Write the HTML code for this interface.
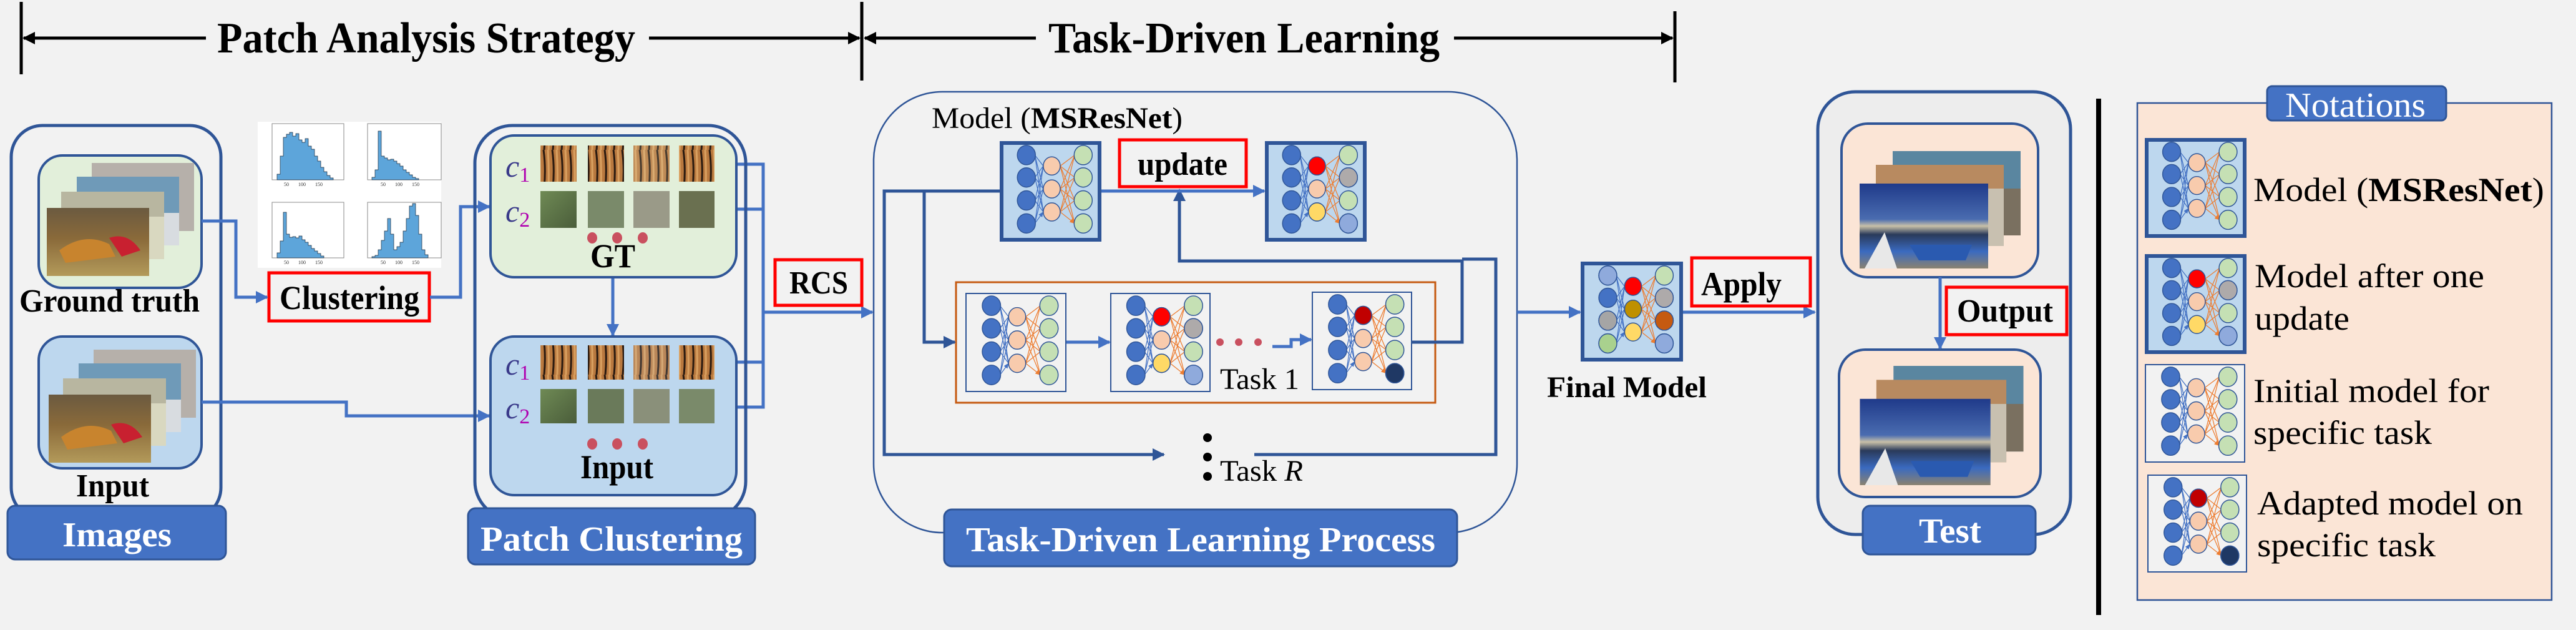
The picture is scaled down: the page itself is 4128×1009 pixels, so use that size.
<!DOCTYPE html>
<html><head><meta charset="utf-8"><style>
html,body{margin:0;padding:0;background:#F2F2F2;}
svg{display:block;font-family:"Liberation Serif","Times New Roman",serif;}
svg text{font-family:"Liberation Serif","Times New Roman",serif !important;}
</style></head><body>
<svg width="4128" height="1009" viewBox="0 0 4128 1009" xmlns="http://www.w3.org/2000/svg" font-family="Liberation Serif, serif">
<defs>
<marker id="ab" viewBox="0 0 10 10" refX="9" refY="5" markerWidth="4" markerHeight="4" orient="auto"><path d="M0,0L10,5L0,10z" fill="#4472C4"/></marker>
<marker id="ad" viewBox="0 0 10 10" refX="9" refY="5" markerWidth="4" markerHeight="4" orient="auto"><path d="M0,0L10,5L0,10z" fill="#2F5597"/></marker>
<marker id="ak" viewBox="0 0 10 10" refX="9" refY="5" markerWidth="4" markerHeight="4" orient="auto"><path d="M0,0L10,5L0,10z" fill="#000"/></marker>
<marker id="sb" viewBox="0 0 10 10" refX="9" refY="5" markerWidth="7" markerHeight="7" orient="auto"><path d="M0,1L10,5L0,9z" fill="#4472C4"/></marker>
<marker id="so" viewBox="0 0 10 10" refX="9" refY="5" markerWidth="7" markerHeight="7" orient="auto"><path d="M0,1L10,5L0,9z" fill="#ED7D31"/></marker>
<pattern id="tig" width="14" height="60" patternUnits="userSpaceOnUse"><rect width="14" height="60" fill="#B9793F"/><path d="M3,0 Q7,30 4,60" stroke="#2a1a10" stroke-width="3" fill="none"/><path d="M10,0 Q12,30 11,60" stroke="#D9A060" stroke-width="3" fill="none"/></pattern>
<linearGradient id="grn" x1="0" y1="0" x2="1" y2="1"><stop offset="0" stop-color="#6f8a55"/><stop offset="1" stop-color="#4a5d3a"/></linearGradient>
<linearGradient id="tgr" x1="0" y1="0" x2="0" y2="1"><stop offset="0" stop-color="#6b5a40"/><stop offset=".45" stop-color="#8a6a3a"/><stop offset="1" stop-color="#b39a5a"/></linearGradient>
<linearGradient id="boat" x1="0" y1="0" x2="0" y2="1"><stop offset="0" stop-color="#1f3a8a"/><stop offset=".42" stop-color="#4a6cb0"/><stop offset=".5" stop-color="#c8c0a8"/><stop offset=".6" stop-color="#2a3a5a"/><stop offset=".8" stop-color="#3a6ac0"/><stop offset="1" stop-color="#8a8270"/></linearGradient>
<symbol id="edges" viewBox="0 0 160 160">
<g stroke="#4472C4" stroke-width="1.3" marker-end="url(#sb)">
<path d="M54,20L68,38M54,20L68,76M54,20L68,114M54,57L68,38M54,57L68,76M54,57L68,114M54,95L68,38M54,95L68,76M54,95L68,114M54,133L68,38M54,133L68,76M54,133L68,114"/></g>
<g stroke="#ED7D31" stroke-width="1.3" marker-end="url(#so)">
<path d="M96,38L120,20M96,38L120,57M96,38L120,95M96,38L120,133M96,76L120,20M96,76L120,57M96,76L120,95M96,76L120,133M96,114L120,20M96,114L120,57M96,114L120,95M96,114L120,133"/></g>
</symbol>
<symbol id="netA" viewBox="0 0 160 160"><use href="#edges" width="160" height="160"/>
<g stroke="#2F5597" stroke-width="1.5"><g fill="#4472C4"><ellipse cx="40" cy="20" rx="15" ry="16"/><ellipse cx="40" cy="57" rx="15" ry="16"/><ellipse cx="40" cy="95" rx="15" ry="16"/><ellipse cx="40" cy="133" rx="15" ry="16"/></g>
<g fill="#F8CBAD"><ellipse cx="82" cy="38" rx="14" ry="15"/><ellipse cx="82" cy="76" rx="14" ry="15"/><ellipse cx="82" cy="114" rx="14" ry="15"/></g>
<g fill="#C5E0B4"><ellipse cx="134" cy="20" rx="15" ry="16"/><ellipse cx="134" cy="57" rx="15" ry="16"/><ellipse cx="134" cy="95" rx="15" ry="16"/><ellipse cx="134" cy="133" rx="15" ry="16"/></g></g></symbol>
<symbol id="netB" viewBox="0 0 160 160"><use href="#netA" width="160" height="160"/>
<g stroke="#2F5597" stroke-width="1.5"><ellipse cx="82" cy="38" rx="14" ry="15" fill="#FF0000"/><ellipse cx="82" cy="114" rx="14" ry="15" fill="#FFD966"/><ellipse cx="134" cy="57" rx="15" ry="16" fill="#AEAAAA"/><ellipse cx="134" cy="133" rx="15" ry="16" fill="#8FAADC"/></g></symbol>
<symbol id="netC" viewBox="0 0 160 160"><use href="#netA" width="160" height="160"/>
<g stroke="#2F5597" stroke-width="1.5"><ellipse cx="82" cy="38" rx="14" ry="15" fill="#C00000"/><ellipse cx="134" cy="133" rx="15" ry="16" fill="#1F3864"/></g></symbol>
<symbol id="netF" viewBox="0 0 160 160"><use href="#netA" width="160" height="160"/>
<g stroke="#2F5597" stroke-width="1.5"><ellipse cx="40" cy="20" rx="15" ry="16" fill="#8FAADC"/><ellipse cx="40" cy="95" rx="15" ry="16" fill="#A5A5A5"/><ellipse cx="40" cy="133" rx="15" ry="16" fill="#A9D18E"/>
<ellipse cx="82" cy="38" rx="14" ry="15" fill="#FF0000"/><ellipse cx="82" cy="76" rx="14" ry="15" fill="#BF9000"/><ellipse cx="82" cy="114" rx="14" ry="15" fill="#FFD966"/>
<ellipse cx="134" cy="57" rx="15" ry="16" fill="#AEAAAA"/><ellipse cx="134" cy="95" rx="15" ry="16" fill="#C55A11"/><ellipse cx="134" cy="133" rx="15" ry="16" fill="#8FAADC"/></g></symbol>
<symbol id="tigstack" viewBox="0 0 240 200">
<rect x="72" y="0" width="164" height="109" fill="#9a9590"/><rect x="72" y="0" width="164" height="109" fill="#c9c3bd" opacity=".6"/>
<rect x="48" y="22" width="164" height="110" fill="#6f9ab8"/><rect x="48" y="80" width="164" height="52" fill="#d8dce0"/>
<rect x="23" y="46" width="165" height="108" fill="#d9d8c0"/><rect x="23" y="46" width="165" height="40" fill="#b8b6a0"/>
<rect x="0" y="72" width="164" height="109" fill="url(#tgr)"/><path d="M20,140 Q60,110 100,130 L110,150 L30,160z" fill="#c8842e"/><path d="M100,120 Q130,110 150,140 L120,150z" fill="#c82030"/>
</symbol>
<symbol id="boatstack" viewBox="0 0 260 190">
<rect x="53" y="0" width="205" height="135" fill="#5a86a0"/><rect x="53" y="60" width="205" height="75" fill="#7a7060"/>
<rect x="26" y="22" width="205" height="130" fill="#b88a60"/><rect x="26" y="60" width="205" height="92" fill="#c8c0b0"/>
<rect x="0" y="52" width="206" height="136" fill="url(#boat)"/><path d="M8,188 L40,130 L60,188z" fill="#e8e8e8"/><path d="M80,150 L180,150 L170,175 L95,175z" fill="#2a5ab0"/>
</symbol>
</defs>

<rect width="4128" height="1009" fill="#F2F2F2"/>

<g stroke="#000" stroke-width="5"><line x1="34" y1="3" x2="34" y2="119"/><line x1="1381" y1="3" x2="1381" y2="129"/><line x1="2684" y1="18" x2="2684" y2="132"/>
<line x1="330" y1="61" x2="38" y2="61" marker-end="url(#ak)"/><line x1="1040" y1="61" x2="1377" y2="61" marker-end="url(#ak)"/>
<line x1="1660" y1="61" x2="1386" y2="61" marker-end="url(#ak)"/><line x1="2330" y1="61" x2="2680" y2="61" marker-end="url(#ak)"/></g>
<text x="348" y="84" font-size="70" font-weight="bold" textLength="670" lengthAdjust="spacingAndGlyphs">Patch Analysis Strategy</text>
<text x="1680" y="84" font-size="70" font-weight="bold" textLength="627" lengthAdjust="spacingAndGlyphs">Task-Driven Learning</text>

<rect x="18" y="201" width="336" height="630" rx="50" fill="#F2F2F2" stroke="#2F5597" stroke-width="5"/>
<rect x="62" y="249" width="261" height="212" rx="38" fill="#E2EFDA" stroke="#2F5597" stroke-width="4"/>
<use href="#tigstack" x="75" y="261" width="240" height="200"/>
<rect x="62" y="539" width="261" height="211" rx="38" fill="#BDD7EE" stroke="#2F5597" stroke-width="4"/>
<use href="#tigstack" x="78" y="560" width="240" height="200"/>
<text x="31" y="499" font-size="52" font-weight="bold" textLength="289" lengthAdjust="spacingAndGlyphs">Ground truth</text>
<text x="122" y="795" font-size="52" font-weight="bold" textLength="117" lengthAdjust="spacingAndGlyphs">Input</text>
<rect x="12" y="810" width="350" height="86" rx="12" fill="#4472C4" stroke="#2F5597" stroke-width="3"/>
<text x="100" y="875" font-size="56" font-weight="bold" fill="#fff" textLength="175" lengthAdjust="spacingAndGlyphs">Images</text>

<rect x="413" y="195" width="294" height="234" fill="#fff"/>
<g fill="none" stroke="#888" stroke-width="1"><rect x="436" y="198" width="115" height="90"/><rect x="589" y="198" width="118" height="90"/><rect x="436" y="324" width="115" height="89"/><rect x="589" y="324" width="118" height="89"/></g>
<g fill="#5DA5DA" stroke="#1a2a3a" stroke-width=".7">
<path d="M444,288V279H449V250H454V220H459V215H464V212H469V218H474V214H479V224H484V228H489V222H494V234H499V239H504V250H509V258H514V268H519V275H524V281H529V285H534V288z"/>
<path d="M596,288V284H601V272H606V210H611V250H616V253H621V256H626V255H631V258H636V262H641V266H646V272H651V276H656V280H661V284H666V286H671V288z"/>
<path d="M444,413V405H449V386H454V340H459V375H464V380H469V379H474V381H479V378H484V384H489V388H494V393H499V398H504V402H509V406H514V410H519V413z"/>
<path d="M596,413V411H601V409H606V400H611V385H616V370H621V350H626V375H631V400H636V395H641V388H646V370H651V350H656V330H661V326H666V345H671V375H676V400H681V408H686V413z"/>
</g>
<g font-size="8" fill="#333"><text x="455" y="298">50</text><text x="478" y="298">100</text><text x="505" y="298">150</text><text x="610" y="298">50</text><text x="633" y="298">100</text><text x="660" y="298">150</text><text x="455" y="423">50</text><text x="478" y="423">100</text><text x="505" y="423">150</text><text x="610" y="423">50</text><text x="633" y="423">100</text><text x="660" y="423">150</text></g>

<rect x="431" y="437" width="257" height="77" fill="none" stroke="#FF0000" stroke-width="5"/>
<text x="448" y="495" font-size="54" font-weight="bold" textLength="224" lengthAdjust="spacingAndGlyphs">Clustering</text>

<g stroke="#4472C4" stroke-width="5" fill="none">
<polyline points="323,354 378,354 378,476 428,476" marker-end="url(#ab)"/>
<polyline points="689,476 738,476 738,331 784,331" marker-end="url(#ab)"/>
<polyline points="323,644 555,644 555,666 784,666" marker-end="url(#ab)"/>
<line x1="982" y1="444" x2="982" y2="537" marker-end="url(#ab)"/>
<polyline points="1145,263 1223,263 1223,652 1145,652"/>
<line x1="1145" y1="335" x2="1223" y2="335"/><line x1="1145" y1="580" x2="1223" y2="580"/>
<line x1="1223" y1="500" x2="1398" y2="500" marker-end="url(#ab)"/>
</g>

<rect x="761" y="201" width="434" height="630" rx="60" fill="none" stroke="#2F5597" stroke-width="5"/>
<rect x="786" y="217" width="394" height="227" rx="38" fill="#E2EFDA" stroke="#2F5597" stroke-width="4"/>
<rect x="786" y="539" width="394" height="254" rx="38" fill="#BDD7EE" stroke="#2F5597" stroke-width="4"/>
<g><rect x="866" y="233" width="58" height="58" fill="url(#tig)"/><rect x="942" y="233" width="58" height="58" fill="url(#tig)"/><rect x="1015" y="233" width="58" height="58" fill="url(#tig)" opacity=".85"/><rect x="1088" y="233" width="57" height="58" fill="url(#tig)"/>
<rect x="866" y="306" width="58" height="59" fill="url(#grn)"/><rect x="942" y="306" width="58" height="59" fill="#7a8a6a"/><rect x="1015" y="306" width="58" height="59" fill="#9a9a88"/><rect x="1088" y="306" width="57" height="59" fill="#6a7050"/>
<rect x="866" y="553" width="58" height="55" fill="url(#tig)"/><rect x="942" y="553" width="58" height="55" fill="url(#tig)"/><rect x="1015" y="553" width="58" height="55" fill="url(#tig)" opacity=".85"/><rect x="1088" y="553" width="57" height="55" fill="url(#tig)"/>
<rect x="866" y="623" width="58" height="55" fill="url(#grn)"/><rect x="942" y="623" width="58" height="55" fill="#6a7a5a"/><rect x="1015" y="623" width="58" height="55" fill="#8a907a"/><rect x="1088" y="623" width="57" height="55" fill="#7a8a6a"/></g>
<g font-size="50" font-style="italic"><text x="810" y="283" fill="#3a3a8a">c<tspan font-size="34" dy="8" fill="#B000B0" font-style="normal">1</tspan></text>
<text x="810" y="355" fill="#3a3a8a">c<tspan font-size="34" dy="8" fill="#B000B0" font-style="normal">2</tspan></text>
<text x="810" y="600" fill="#3a3a8a">c<tspan font-size="34" dy="8" fill="#B000B0" font-style="normal">1</tspan></text>
<text x="810" y="670" fill="#3a3a8a">c<tspan font-size="34" dy="8" fill="#B000B0" font-style="normal">2</tspan></text></g>
<g fill="#C9505F"><ellipse cx="949" cy="381" rx="8" ry="9"/><ellipse cx="989" cy="381" rx="8" ry="9"/><ellipse cx="1030" cy="381" rx="8" ry="9"/><ellipse cx="949" cy="711" rx="8" ry="9"/><ellipse cx="989" cy="711" rx="8" ry="9"/><ellipse cx="1030" cy="711" rx="8" ry="9"/></g>
<text x="946" y="428" font-size="54" font-weight="bold" textLength="72" lengthAdjust="spacingAndGlyphs">GT</text>
<text x="930" y="766" font-size="54" font-weight="bold" textLength="117" lengthAdjust="spacingAndGlyphs">Input</text>
<rect x="750" y="814" width="460" height="90" rx="12" fill="#4472C4" stroke="#2F5597" stroke-width="3"/>
<text x="770" y="882" font-size="56" font-weight="bold" fill="#fff" textLength="420" lengthAdjust="spacingAndGlyphs">Patch Clustering</text>

<rect x="1242" y="416" width="139" height="73" fill="none" stroke="#FF0000" stroke-width="5"/>
<text x="1265" y="470" font-size="52" font-weight="bold" textLength="94" lengthAdjust="spacingAndGlyphs">RCS</text>

<rect x="1400" y="147" width="1031" height="706" rx="110" fill="none" stroke="#2F5597" stroke-width="2.5"/>
<text x="1493" y="205" font-size="48" textLength="402" lengthAdjust="spacingAndGlyphs">Model (<tspan font-weight="bold">MSResNet</tspan>)</text>
<rect x="1532" y="452" width="768" height="193" fill="none" stroke="#C55A11" stroke-width="3"/>
<g stroke="#2F5597" stroke-width="5" fill="none">
<polyline points="1603,306 1417,306 1417,728 1865,728" marker-end="url(#ad)"/>
<polyline points="1481,306 1481,548 1530,548" marker-end="url(#ad)"/>
<polyline points="2262,548 2343,548 2343,418 1890,418 1890,304" marker-end="url(#ad)"/>
<polyline points="2343,415 2397,415 2397,728 2010,728"/>
</g>
<g stroke="#4472C4" stroke-width="5" fill="none">
<line x1="1764" y1="306" x2="2026" y2="306" marker-end="url(#ab)"/>
<line x1="1708" y1="548" x2="1778" y2="548" marker-end="url(#ab)"/>
<polyline points="2039,555 2069,555 2069,544 2101,544" marker-end="url(#ab)"/>
<line x1="2431" y1="500" x2="2532" y2="500" marker-end="url(#ab)"/>
<line x1="2696" y1="500" x2="2908" y2="500" marker-end="url(#ab)"/>
</g>
<rect x="1605" y="229" width="157" height="155" fill="#BDD7EE" stroke="#2F5597" stroke-width="6"/><use href="#netA" x="1605" y="229" width="157" height="155"/>
<rect x="2030" y="229" width="157" height="155" fill="#BDD7EE" stroke="#2F5597" stroke-width="6"/><use href="#netB" x="2030" y="229" width="157" height="155"/>
<rect x="1794" y="224" width="203" height="75" fill="#F2F2F2" stroke="#FF0000" stroke-width="5"/>
<text x="1823" y="280" font-size="52" font-weight="bold" textLength="144" lengthAdjust="spacingAndGlyphs">update</text>
<rect x="1548" y="470" width="160" height="157" fill="#F2F2F2" stroke="#2F5597" stroke-width="2"/><use href="#netA" x="1548" y="470" width="160" height="157"/>
<rect x="1780" y="470" width="159" height="157" fill="#F2F2F2" stroke="#2F5597" stroke-width="2"/><use href="#netB" x="1780" y="470" width="159" height="157"/>
<rect x="2103" y="468" width="159" height="156" fill="#F2F2F2" stroke="#2F5597" stroke-width="2"/><use href="#netC" x="2103" y="468" width="159" height="156"/>
<g fill="#C9505F"><circle cx="1955" cy="548" r="6"/><circle cx="1985" cy="548" r="6"/><circle cx="2016" cy="548" r="6"/></g>
<text x="1955" y="623" font-size="48" textLength="127" lengthAdjust="spacingAndGlyphs">Task 1</text>
<g fill="#000"><circle cx="1935" cy="701" r="7"/><circle cx="1935" cy="732" r="7"/><circle cx="1935" cy="763" r="7"/></g>
<text x="1955" y="770" font-size="48" textLength="133" lengthAdjust="spacingAndGlyphs">Task <tspan font-style="italic">R</tspan></text>
<rect x="1513" y="816" width="822" height="91" rx="12" fill="#4472C4" stroke="#2F5597" stroke-width="3"/>
<text x="1548" y="883" font-size="56" font-weight="bold" fill="#fff" textLength="752" lengthAdjust="spacingAndGlyphs">Task-Driven Learning Process</text>

<rect x="2536" y="422" width="158" height="154" fill="#BDD7EE" stroke="#2F5597" stroke-width="6"/><use href="#netF" x="2536" y="422" width="158" height="154"/>
<text x="2479" y="636" font-size="48" font-weight="bold" textLength="256" lengthAdjust="spacingAndGlyphs">Final Model</text>
<rect x="2711" y="413" width="190" height="77" fill="none" stroke="#FF0000" stroke-width="5"/>
<text x="2726" y="473" font-size="54" font-weight="bold" textLength="129" lengthAdjust="spacingAndGlyphs">Apply</text>

<rect x="2913" y="147" width="405" height="709" rx="60" fill="#EDEDED" stroke="#2F5597" stroke-width="5"/>
<rect x="2951" y="198" width="315" height="246" rx="42" fill="#FBE5D6" stroke="#2F5597" stroke-width="4"/>
<rect x="2947" y="560" width="323" height="236" rx="42" fill="#FBE5D6" stroke="#2F5597" stroke-width="4"/>
<use href="#boatstack" x="2980" y="242" width="260" height="190"/>
<use href="#boatstack" x="2980" y="586" width="265" height="193"/>
<line x1="3109" y1="444" x2="3109" y2="558" stroke="#4472C4" stroke-width="5" marker-end="url(#ab)"/>
<rect x="3119" y="460" width="193" height="76" fill="#F2F2F2" stroke="#FF0000" stroke-width="5"/>
<text x="3136" y="515" font-size="52" font-weight="bold" textLength="154" lengthAdjust="spacingAndGlyphs">Output</text>
<rect x="2985" y="810" width="277" height="78" rx="12" fill="#4472C4" stroke="#2F5597" stroke-width="3"/>
<text x="3075" y="869" font-size="56" font-weight="bold" fill="#fff" textLength="100" lengthAdjust="spacingAndGlyphs">Test</text>

<line x1="3363" y1="158" x2="3363" y2="985" stroke="#000" stroke-width="8"/>

<rect x="3425" y="165" width="664" height="796" fill="#FBE5D6" stroke="#2F5597" stroke-width="2.5"/>
<rect x="3633" y="138" width="287" height="55" rx="8" fill="#4472C4" stroke="#2F5597" stroke-width="3"/>
<text x="3662" y="187" font-size="56" fill="#fff" textLength="225" lengthAdjust="spacingAndGlyphs">Notations</text>
<rect x="3440" y="224" width="157" height="154" fill="#BDD7EE" stroke="#2F5597" stroke-width="6"/><use href="#netA" x="3440" y="224" width="157" height="154"/>
<rect x="3440" y="410" width="157" height="154" fill="#BDD7EE" stroke="#2F5597" stroke-width="6"/><use href="#netB" x="3440" y="410" width="157" height="154"/>
<rect x="3438" y="584" width="159" height="156" fill="#F2F2F2" stroke="#2F5597" stroke-width="2"/><use href="#netA" x="3438" y="584" width="159" height="156"/>
<rect x="3442" y="761" width="158" height="155" fill="#F2F2F2" stroke="#2F5597" stroke-width="2"/><use href="#netC" x="3442" y="761" width="158" height="155"/>
<g font-size="54">
<text x="3611" y="322" textLength="466" lengthAdjust="spacingAndGlyphs">Model (<tspan font-weight="bold">MSResNet</tspan>)</text>
<text x="3613" y="460" textLength="368" lengthAdjust="spacingAndGlyphs">Model after one</text>
<text x="3613" y="528" textLength="152" lengthAdjust="spacingAndGlyphs">update</text>
<text x="3611" y="644" textLength="378" lengthAdjust="spacingAndGlyphs">Initial model for</text>
<text x="3611" y="711" textLength="286" lengthAdjust="spacingAndGlyphs">specific task</text>
<text x="3617" y="824" textLength="426" lengthAdjust="spacingAndGlyphs">Adapted model on</text>
<text x="3617" y="891" textLength="286" lengthAdjust="spacingAndGlyphs">specific task</text>
</g>
</svg>
</body></html>
